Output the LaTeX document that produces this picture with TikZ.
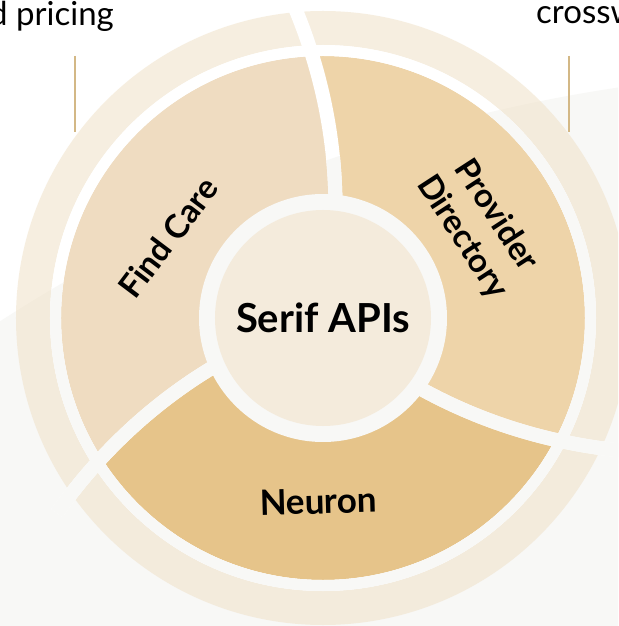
\documentclass[tikz,border=0pt]{standalone}
\usepackage{fontspec}
\setmainfont{Lato}
\definecolor{bggray}{HTML}{F8F8F6}
\definecolor{findcare}{HTML}{EFDCC1}
\definecolor{provider}{HTML}{EED4A9}
\definecolor{neuron}{HTML}{E6C48A}
\definecolor{centerc}{HTML}{F4EBDC}
\definecolor{ringc}{HTML}{EFDFC3}
\definecolor{accent}{HTML}{D3B886}
\begin{document}
\begin{tikzpicture}[x=1pt,y=1pt,
  gapline/.style={line width=14pt, line cap=butt},
  seglabel/.style={font=\bfseries\fontsize{33}{40}\selectfont, align=center, inner sep=0pt, text=black},
  plaintext/.style={font=\fontsize{33}{40}\selectfont, inner sep=0pt, text=black},
  tick/.style={draw=accent, line width=2pt}]
\def\k{0.058}
\useasboundingbox (-323,-308) rectangle (295,318);
\clip (-323,-308) rectangle (295,318);
% page background: white with a large soft grey disc
\fill[white] (-323,-308) rectangle (295,318);
\fill[bggray] (531,-1327) circle[radius=1575];
% three wedge segments bounded by spiral dividers
\foreach \a/\col in {84.3/findcare, 204.3/neuron, 324.3/provider}{
  \fill[\col] plot[domain=0:262, samples=40, variable=\q] ({\a+\k*(\q-124)}:\q)
    arc[start angle={\a+\k*138}, end angle={\a+120+\k*138}, radius=262]
    -- plot[domain=262:0, samples=40, variable=\q] ({\a+120+\k*(\q-124)}:\q) -- cycle;
}
% translucent outer ring
\fill[ringc, fill opacity=0.5, even odd rule] (0,0) circle[radius=307] (0,0) circle[radius=273];
% gaps: white on the page, grey inside the grey disc
\foreach \a in {84.3,204.3,324.3}
  \draw[gapline, white] plot[domain=100:330, samples=40, variable=\q] ({\a+\k*(\q-124)}:\q);
\draw[white, line width=11pt] (0,0) circle[radius=267.5];
\begin{scope}
  \clip (531,-1327) circle[radius=1575];
  \foreach \a in {84.3,204.3,324.3}
    \draw[gapline, bggray] plot[domain=100:330, samples=40, variable=\q] ({\a+\k*(\q-124)}:\q);
  \draw[bggray, line width=11pt] (0,0) circle[radius=267.5];
\end{scope}
% hub
\fill[bggray] (0,0) circle[radius=124];
\fill[centerc] (0,0) circle[radius=108];
\node[seglabel, anchor=base] (core) at (0,-14) {\fontsize{40}{48}\selectfont Serif APIs};
\node[seglabel, rotate=53] (find) at (-155,80.5) {Find Care};
\node[seglabel, rotate=-57] (prov) at (156,91.5) {Provider\\Directory};
\node[seglabel, rotate=1.5] (neur) at (-4.7,-183.5) {\fontsize{35}{42}\selectfont Neuron};
% side captions and their ticks
\node[plaintext, anchor=base east] (pricing) at (-209,292) {d pricing};
\node[plaintext, anchor=base west] (cross) at (213,294) {crossw};
\coordinate (lt) at (-248,262); \coordinate (lb) at (-248,186);
\coordinate (rt) at (246,262);  \coordinate (rb) at (246,186);
\draw[tick] (lt) -- (lb);
\draw[tick] (rt) -- (rb);
\end{tikzpicture}
\end{document}
